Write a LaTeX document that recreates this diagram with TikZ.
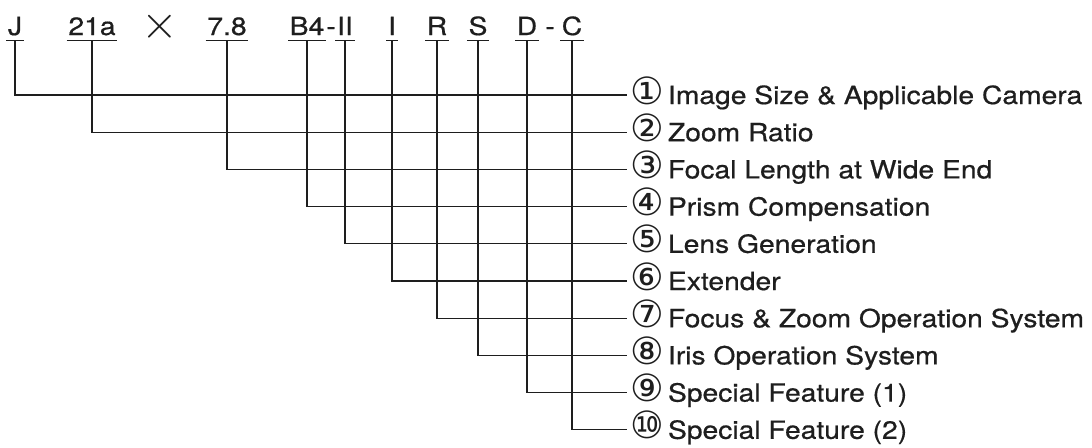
\documentclass[tikz,border=0pt]{standalone}
\usepackage{fontspec}
\usepackage{graphicx}
\setmainfont{TeX Gyre Heros}[FakeStretch=1.13,FakeBold=0.6]
\newfontfamily\circfont{DejaVu Sans}[Scale=1.5]
\usepackage{tikz}
\definecolor{ink}{RGB}{30,30,30}
\tikzset{
  code/.style={font=\fontsize{25}{28}\selectfont, text=ink, anchor=base,
               text depth=0pt, inner xsep=1.5pt, inner ysep=5pt},
  spec/.style={font=\fontsize{25}{28}\selectfont, text=ink, anchor=west,
               inner xsep=3pt, inner ysep=0pt, text height=23pt, text depth=5pt},
  lead/.style={draw=ink, line width=1.2pt},
}

\begin{document}
\begin{tikzpicture}[x=1pt,y=-1pt]
    \useasboundingbox (0,0) rectangle (1092,447);
    % type code
    \node[code] (cJ)   at (15,35)  {J};
    \node[code] (c21a) at (92,35)  {21a};
    \node[code,inner ysep=0pt] (cX) at (160,38) {\scalebox{1.9}{$\times$}};
    \node[code] (c78)  at (227,35) {7.8};
    \node[code] (cB4)  at (307,35) {B4};
    \node[code] (cd1)  at (331,35) {-};
    \node[code] (cII)  at (345,35) {II};
    \node[code] (cI)   at (392,35) {I};
    \node[code] (cR)   at (437,35) {R};
    \node[code] (cS)   at (478,35) {S};
    \node[code] (cD)   at (527,35) {D};
    \node[code] (cd2)  at (550,35) {-};
    \node[code] (cC)   at (572,35) {C};
    \foreach \n in {cJ,c21a,c78,cB4,cII,cI,cR,cS,cD,cC}
      \draw[lead] (\n.south west) -- (\n.south east);
    % meanings
    \foreach \c/\t [count=\k] in {
        ①/Image Size \& Applicable Camera,
        ②/Zoom Ratio,
        ③/Focal Length at Wide End,
        ④/Prism Compensation,
        ⑤/Lens Generation,
        ⑥/Extender,
        ⑦/Focus \& Zoom Operation System,
        ⑧/Iris Operation System,
        ⑨/Special Feature (1),
        ⑩/Special Feature (2)}
      \node[spec] (s\k) at (627,{95+37.2*(\k-1)}) {{\circfont\c}\,\t};
    \foreach \n [count=\k] in {cJ,c21a,c78,cB4,cII,cI,cR,cS,cD,cC}
      \draw[lead] (\n.south) |- (s\k.west);
\end{tikzpicture}
\end{document}
